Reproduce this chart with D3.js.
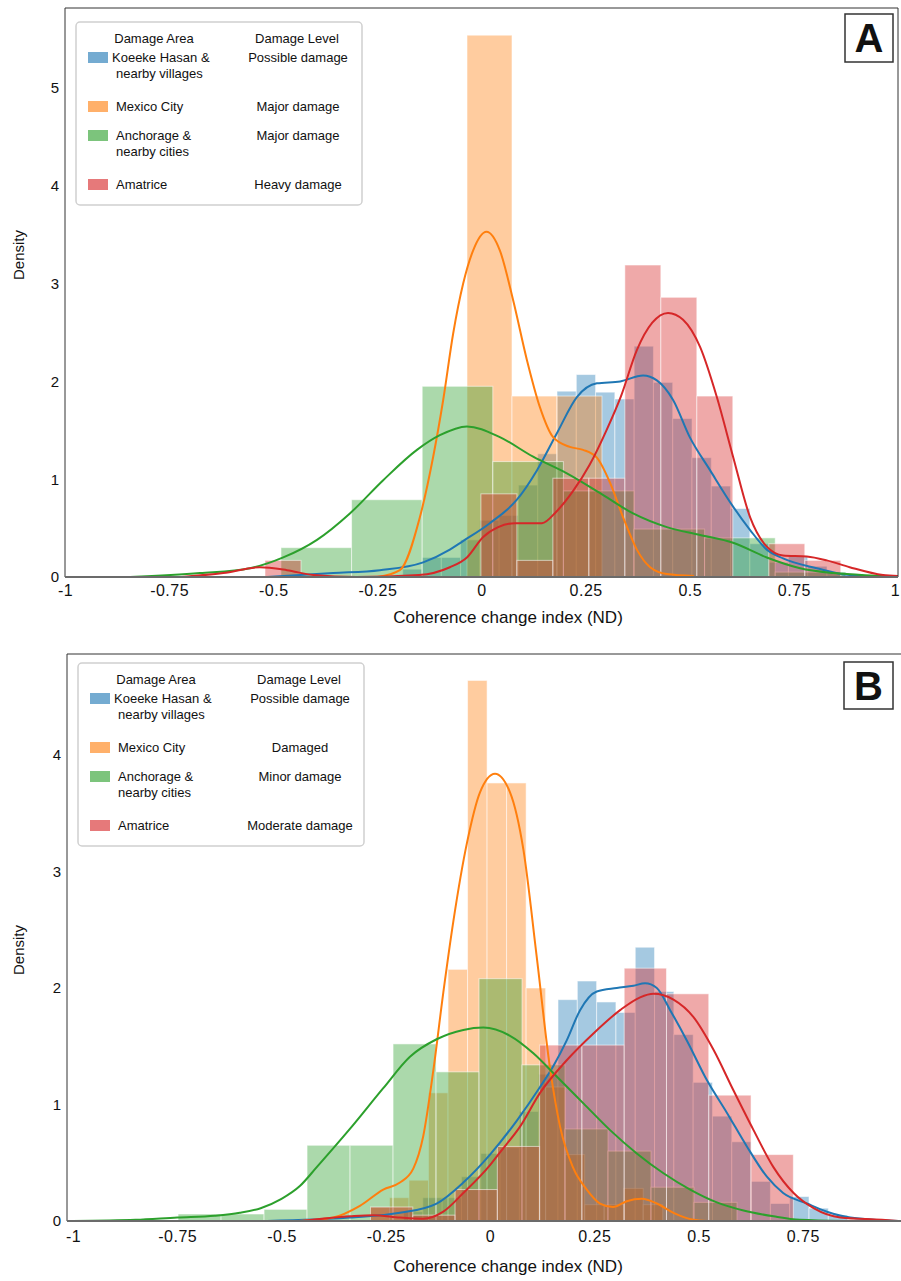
<!DOCTYPE html>
<html lang="en">
<head>
<meta charset="UTF-8">
<title>Coherence change index</title>
<style>
  body { margin: 0; background: #fff; }
  svg text { font-family: "Liberation Sans", Arial, sans-serif; fill: #111; }
</style>
</head>
<body>
<svg id="chart" width="901" height="1281"></svg>

<script src="https://cdn.jsdelivr.net/npm/d3@7/dist/d3.min.js"></script>
<script>

// ---- data ----
const colors = ["#1f77b4", "#ff7f0e", "#2ca02c", "#d62728"]
const areaNames = [["Koeeke Hasan &", "nearby villages"], ["Mexico City"], ["Anchorage &", "nearby cities"], ["Amatrice"]]
const levelsA = ["Possible damage", "Major damage", "Major damage", "Heavy damage"]
const levelsB = ["Possible damage", "Damaged", "Minor damage", "Moderate damage"]

const tickValsA = [-1, -0.75, -0.5, -0.25, 0, 0.25, 0.5, 0.75, 1]
const tickLabelsA = ["-1", "-0.75", "-0.5", "-0.25", "0", "0.25", "0.5", "0.75", "1"]
const tickValsB = [-1, -0.75, -0.5, -0.25, 0, 0.25, 0.5, 0.75]
const tickLabelsB = ["-1", "-0.75", "-0.5", "-0.25", "0", "0.25", "0.5", "0.75"]
const yTicksA = [0, 1, 2, 3, 4, 5]
const yTicksB = [0, 1, 2, 3, 4]

// histogram bins: first edge, bin width, densities
const blueBinsA = { start: -0.1891, width: 0.0463 }
const blueHeightsA = [0.08, 0.2, 0.2, 0.38, 0.58, 0.63, 0.94, 1.26, 1.90, 2.07, 1.89, 1.82, 2.36, 1.99, 1.62, 1.22, 0.93, 0.70, 0.34, 0.15, 0.21, 0.11, 0.05]
const orangeBinsA = { start: -0.0348, width: 0.108 }
const orangeHeightsA = [5.54, 1.85, 1.85]
const greenBinsA = { start: -0.4814, width: 0.1695 }
const greenHeightsA = [0.30, 0.79, 1.95, 1.18, 0.88, 0.49, 0.40, 0.05]
const redBinsA = { start: -0.5198, width: 0.0864 }
const redHeightsA = [0.17, 0, 0, 0, 0, 0, 0.85, 0.17, 1.01, 1.01, 3.19, 2.86, 1.85, 0, 0.34, 0.17]

const blueBinsB = { start: -0.2073, width: 0.0463 }
const blueHeightsB = [0.08, 0.2, 0.2, 0.38, 0.58, 0.63, 0.94, 1.26, 1.90, 2.06, 1.88, 1.79, 2.35, 1.97, 1.60, 1.19, 0.90, 0.68, 0.34, 0.15, 0.21, 0.11, 0.05]
const orangeBinsB = { start: -0.2878, width: 0.0468 }
const orangeHeightsB = [0.12, 0.2, 0.35, 1.1, 2.16, 4.64, 3.76, 3.76, 2.0, 1.15, 0.57, 0.14, 0.14, 0.28, 0.14]
const greenBinsB = { start: -0.748, width: 0.1031 }
const greenHeightsB = [0.06, 0.06, 0.10, 0.65, 0.65, 1.52, 1.28, 2.08, 1.34, 0.79, 0.60, 0.29, 0.16]
const redBinsB = { start: -0.2866, width: 0.1014 }
const redHeightsB = [0.12, 0.05, 0.27, 0.64, 1.51, 1.51, 2.17, 1.95, 1.08, 0.57]

// density curves [x, density]
const blueKdeA = [[-0.515, 0], [-0.356, 0.04], [-0.244, 0.07], [-0.14, 0.15], [-0.076, 0.28], [-0.047, 0.36], [0.02, 0.55], [0.085, 0.79], [0.133, 1.09], [0.181, 1.47], [0.229, 1.84], [0.277, 1.98], [0.333, 2.0], [0.388, 2.06], [0.421, 2.01], [0.46, 1.81], [0.5, 1.43], [0.549, 1.09], [0.604, 0.72], [0.645, 0.48], [0.685, 0.28], [0.724, 0.19], [0.805, 0.09], [0.884, 0.02], [1.0, 0]]
const orangeKdeA = [[-0.25, 0], [-0.196, 0.07], [-0.148, 0.61], [-0.116, 1.23], [-0.092, 1.81], [-0.068, 2.49], [-0.044, 3.0], [-0.02, 3.34], [0.012, 3.53], [0.044, 3.34], [0.076, 2.83], [0.109, 2.22], [0.14, 1.74], [0.172, 1.43], [0.212, 1.33], [0.244, 1.30], [0.277, 1.22], [0.309, 0.96], [0.34, 0.61], [0.373, 0.28], [0.405, 0.10], [0.445, 0.03], [0.51, 0.01]]
const greenKdeA = [[-0.844, 0], [-0.676, 0.04], [-0.556, 0.09], [-0.476, 0.2], [-0.395, 0.38], [-0.316, 0.65], [-0.236, 0.99], [-0.155, 1.30], [-0.1, 1.45], [-0.035, 1.54], [0.044, 1.43], [0.124, 1.23], [0.205, 1.06], [0.284, 0.86], [0.364, 0.65], [0.445, 0.51], [0.525, 0.43], [0.604, 0.35], [0.685, 0.20], [0.765, 0.09], [0.845, 0.04], [0.964, 0.01], [1.0, 0]]
const redKdeA = [[-0.72, 0], [-0.62, 0.04], [-0.532, 0.10], [-0.467, 0.07], [-0.404, 0.02], [-0.3, 0], [-0.15, 0.02], [-0.076, 0.1], [-0.035, 0.2], [0.004, 0.41], [0.04, 0.51], [0.08, 0.55], [0.145, 0.55], [0.18, 0.67], [0.22, 0.88], [0.26, 1.15], [0.30, 1.50], [0.335, 1.85], [0.373, 2.32], [0.41, 2.60], [0.448, 2.70], [0.484, 2.63], [0.525, 2.35], [0.565, 1.84], [0.604, 1.23], [0.645, 0.61], [0.685, 0.31], [0.724, 0.22], [0.781, 0.21], [0.829, 0.17], [0.884, 0.10], [0.964, 0.02], [1.0, 0.01]]

const blueKdeB = [[-0.535, 0], [-0.336, 0.03], [-0.216, 0.07], [-0.128, 0.15], [-0.064, 0.33], [0.0, 0.57], [0.064, 0.86], [0.12, 1.15], [0.152, 1.33], [0.184, 1.55], [0.216, 1.81], [0.256, 1.97], [0.304, 2.0], [0.344, 2.02], [0.372, 2.04], [0.4, 2.0], [0.432, 1.81], [0.472, 1.55], [0.52, 1.21], [0.568, 0.93], [0.616, 0.64], [0.664, 0.38], [0.703, 0.24], [0.76, 0.15], [0.808, 0.08], [0.864, 0.03], [0.98, 0]]
const orangeKdeB = [[-0.46, 0], [-0.376, 0.03], [-0.312, 0.13], [-0.256, 0.27], [-0.216, 0.33], [-0.184, 0.45], [-0.16, 0.73], [-0.136, 1.29], [-0.112, 1.96], [-0.088, 2.57], [-0.055, 3.25], [-0.024, 3.68], [0.012, 3.84], [0.048, 3.68], [0.08, 3.19], [0.112, 2.27], [0.144, 1.31], [0.168, 0.81], [0.199, 0.46], [0.232, 0.27], [0.264, 0.15], [0.295, 0.12], [0.328, 0.17], [0.364, 0.19], [0.4, 0.15], [0.44, 0.07], [0.488, 0.01], [0.52, 0]]
const greenKdeB = [[-1.0, 0], [-0.85, 0.01], [-0.75, 0.03], [-0.66, 0.045], [-0.6, 0.07], [-0.55, 0.11], [-0.5, 0.19], [-0.456, 0.30], [-0.416, 0.46], [-0.336, 0.79], [-0.256, 1.14], [-0.192, 1.41], [-0.128, 1.56], [-0.064, 1.64], [-0.016, 1.66], [0.048, 1.59], [0.104, 1.44], [0.16, 1.24], [0.224, 1.01], [0.288, 0.78], [0.352, 0.58], [0.416, 0.41], [0.48, 0.27], [0.544, 0.16], [0.608, 0.09], [0.68, 0.04], [0.743, 0.01], [0.85, 0]]
const redKdeB = [[-0.45, 0], [-0.336, 0.04], [-0.28, 0.05], [-0.216, 0.03], [-0.16, 0.02], [-0.112, 0.08], [-0.064, 0.24], [0.0, 0.48], [0.024, 0.59], [0.072, 0.81], [0.12, 1.10], [0.184, 1.38], [0.248, 1.61], [0.312, 1.81], [0.36, 1.92], [0.392, 1.95], [0.44, 1.90], [0.488, 1.75], [0.536, 1.47], [0.584, 1.12], [0.632, 0.78], [0.68, 0.46], [0.728, 0.24], [0.776, 0.11], [0.84, 0.03], [0.94, 0.01], [0.98, 0]]

// ---- layout ----
let svg = d3.select("#chart")

let panels = [
    {
        key: "A",
        frame: { left: 65, right: 898, top: 8, bottom: 577, rightLine: true },
        x: d3.scaleLinear().domain([-1, 1]).range([65, 898]),
        y: d3.scaleLinear().domain([0, 5]).range([577, 88]),
        ticks: [tickValsA, tickLabelsA], yTicks: yTicksA, tickPad: 8,
        bins: [[blueBinsA, blueHeightsA], [orangeBinsA, orangeHeightsA], [greenBinsA, greenHeightsA], [redBinsA, redHeightsA]],
        kdes: [blueKdeA, orangeKdeA, greenKdeA, redKdeA],
        levels: levelsA, legend: [76, 22], letterBox: [845, 14, 48, 48],
        xTitleY: 623, yTitleY: 255
    },
    {
        key: "B",
        frame: { left: 67, right: 901, top: 654, bottom: 1221, rightLine: false },
        x: d3.scaleLinear().domain([-1, 0.75]).range([73, 802.75]),
        y: d3.scaleLinear().domain([0, 4]).range([1221, 755]),
        ticks: [tickValsB, tickLabelsB], yTicks: yTicksB, tickPad: 10,
        bins: [[blueBinsB, blueHeightsB], [orangeBinsB, orangeHeightsB], [greenBinsB, greenHeightsB], [redBinsB, redHeightsB]],
        kdes: [blueKdeB, orangeKdeB, greenKdeB, redKdeB],
        levels: levelsB, legend: [78, 663], letterBox: [844, 662, 49, 47],
        xTitleY: 1272, yTitleY: 950
    }
]

panels.forEach(drawPanel)

function drawPanel(p) {
    let f = p.frame
    let g = svg.append("g")

    let clipId = "clip" + p.key
    svg.append("clipPath").attr("id", clipId)
        .append("rect")
        .attr("x", f.left).attr("y", f.top)
        .attr("width", f.right - f.left).attr("height", f.bottom - f.top)

    let plot = g.append("g").attr("clip-path", "url(#" + clipId + ")")

    // bars
    p.bins.forEach(([bin, heights], s) => {
        let rows = heights.map((h, i) => ({ x0: bin.start + i * bin.width, x1: bin.start + (i + 1) * bin.width, h: h }))
            .filter(d => d.h > 0)
        plot.append("g")
            .selectAll("rect")
            .data(rows)
            .enter()
            .append("rect")
            .attr("x", d => p.x(d.x0))
            .attr("width", d => p.x(d.x1) - p.x(d.x0))
            .attr("y", d => p.y(d.h))
            .attr("height", d => p.y(0) - p.y(d.h))
            .attr("fill", colors[s])
            .attr("fill-opacity", 0.4)
            .attr("stroke", "#fff")
            .attr("stroke-opacity", 0.55)
            .attr("stroke-width", 1)
    })

    // density lines
    let line = d3.line()
        .x(d => p.x(d[0]))
        .y(d => p.y(d[1]))
        .curve(d3.curveMonotoneX)
    p.kdes.forEach((k, s) => {
        plot.append("path")
            .attr("d", line(k))
            .attr("fill", "none")
            .attr("stroke", colors[s])
            .attr("stroke-width", 2)
    })

    // frame
    g.append("line").attr("x1", f.left).attr("x2", f.left).attr("y1", f.top).attr("y2", f.bottom)
        .attr("stroke", "#333").attr("stroke-width", 1)
    g.append("line").attr("x1", f.left).attr("x2", f.right).attr("y1", f.top).attr("y2", f.top)
        .attr("stroke", "#333").attr("stroke-width", 1)
    if (f.rightLine) {
        g.append("line").attr("x1", f.right).attr("x2", f.right).attr("y1", f.top).attr("y2", f.bottom)
            .attr("stroke", "#333").attr("stroke-width", 1)
    }
    g.append("line").attr("x1", f.left).attr("x2", f.right).attr("y1", f.bottom).attr("y2", f.bottom)
        .attr("stroke", "#6b6b6b").attr("stroke-width", 2)

    // axes
    let xAxis = d3.axisBottom(p.x)
        .tickValues(p.ticks[0])
        .tickFormat((d, i) => p.ticks[1][i])
        .tickSize(0)
        .tickPadding(p.tickPad)
    g.append("g")
        .attr("transform", "translate(0," + f.bottom + ")")
        .call(xAxis)
        .call(a => a.select(".domain").remove())
        .selectAll("text")
        .style("font-family", "'Liberation Sans', Arial, sans-serif")
        .style("font-size", "16px")
        .style("letter-spacing", "0.5px")
        .attr("fill", "#111")
        .attr("dx", d => p.x(d) > 890 ? -3 : 0)

    let yAxis = d3.axisLeft(p.y)
        .tickValues(p.yTicks)
        .tickFormat(d3.format("d"))
        .tickSize(0)
        .tickPadding(6)
    g.append("g")
        .attr("transform", "translate(" + f.left + ",0)")
        .call(yAxis)
        .call(a => a.select(".domain").remove())
        .selectAll("text")
        .style("font-family", "'Liberation Sans', Arial, sans-serif")
        .style("font-size", "15px")
        .attr("fill", "#111")

    g.append("text")
        .attr("x", 508).attr("y", p.xTitleY)
        .attr("text-anchor", "middle")
        .style("font-size", "17px")
        .text("Coherence change index (ND)")

    g.append("text")
        .attr("transform", "translate(24," + p.yTitleY + ") rotate(-90)")
        .attr("text-anchor", "middle")
        .style("font-size", "15px")
        .text("Density")

    // legend
    let [lx, ly] = p.legend
    let leg = g.append("g").attr("transform", "translate(" + lx + "," + ly + ")")
    leg.append("rect")
        .attr("x", 0).attr("y", 0).attr("width", 286).attr("height", 183)
        .attr("rx", 4)
        .attr("fill", "#fff").attr("fill-opacity", 0.85)
        .attr("stroke", "#d0d0d0").attr("stroke-width", 1.5)
    leg.append("text").attr("x", 78).attr("y", 16).attr("dy", "0.35em")
        .attr("text-anchor", "middle").style("font-size", "13px").text("Damage Area")
    leg.append("text").attr("x", 221).attr("y", 16).attr("dy", "0.35em")
        .attr("text-anchor", "middle").style("font-size", "13px").text("Damage Level")

    let rowY = [35, 84, 113, 162]
    areaNames.forEach((lines, i) => {
        leg.append("rect")
            .attr("x", 12).attr("y", rowY[i] - 5)
            .attr("width", 20).attr("height", 11)
            .attr("fill", colors[i]).attr("fill-opacity", 0.62)
        lines.forEach((t, j) => {
            leg.append("text")
                .attr("x", i === 0 && j === 0 ? 36 : 40)
                .attr("y", rowY[i] + j * 16)
                .attr("dy", "0.35em")
                .style("font-size", "13px")
                .text(t)
        })
        leg.append("text")
            .attr("x", 222).attr("y", rowY[i]).attr("dy", "0.35em")
            .attr("text-anchor", "middle")
            .style("font-size", "13px")
            .text(p.levels[i])
    })

    // panel letter
    let [bx, by, bw, bh] = p.letterBox
    g.append("rect").attr("x", bx).attr("y", by).attr("width", bw).attr("height", bh)
        .attr("fill", "#fff").attr("stroke", "#333").attr("stroke-width", 1.5)
    g.append("text").attr("x", bx + bw / 2).attr("y", by + bh / 2).attr("dy", "0.36em")
        .attr("text-anchor", "middle")
        .style("font-size", "40px").style("font-weight", "bold")
        .text(p.key)
}

</script>
</body>
</html>
